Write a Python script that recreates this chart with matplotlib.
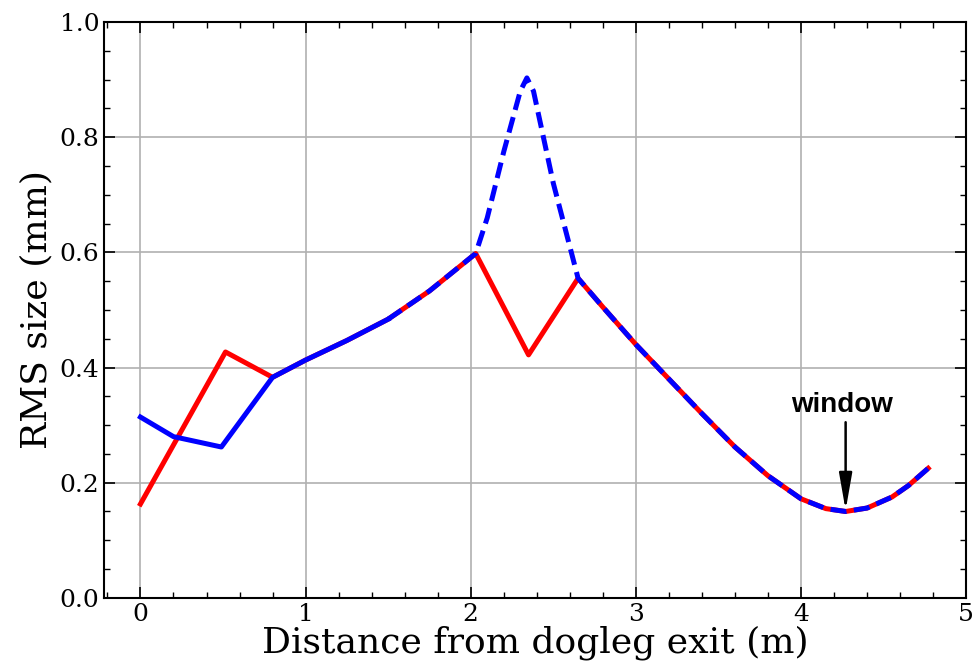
import numpy as np
import matplotlib
matplotlib.use('Agg')
import matplotlib.pyplot as plt
from matplotlib.ticker import MultipleLocator

# shared part of both curves (after the blue and red meet)
mid_x = [0.8, 1.0, 1.25, 1.5, 1.75, 2.03]
mid_y = [0.383, 0.413, 0.447, 0.484, 0.533, 0.598]

tail_x = [2.65, 2.8, 3.0, 3.2, 3.4, 3.6, 3.8, 4.0, 4.15, 4.27, 4.4, 4.55, 4.65, 4.77]
tail_y = [0.555, 0.505, 0.44, 0.38, 0.32, 0.262, 0.212, 0.172, 0.155, 0.15, 0.156, 0.175, 0.195, 0.225]

# red curve
red_x = [0.0, 0.515] + mid_x + [2.35] + tail_x
red_y = [0.163, 0.427] + mid_y + [0.422] + tail_y

# blue curve: solid part, then dashed part
blue_solid_x = [0.0, 0.2, 0.49] + mid_x[:4]
blue_solid_y = [0.314, 0.28, 0.262] + mid_y[:4]
blue_dash_x = mid_x[3:] + [2.1, 2.2, 2.3, 2.34, 2.38, 2.5] + tail_x
blue_dash_y = mid_y[3:] + [0.66, 0.775, 0.88, 0.903, 0.88, 0.72] + tail_y

plt.rcParams['font.family'] = 'DejaVu Serif'

fig = plt.figure(figsize=(9.73, 6.68), dpi=100)
ax = fig.add_axes([0.107, 0.105, 0.886, 0.862])

ax.plot(red_x, red_y, color='red', lw=3.6, solid_joinstyle='round', zorder=3)
ax.plot(blue_solid_x, blue_solid_y, color='blue', lw=3.6, solid_joinstyle='round', zorder=4)
ax.plot(blue_dash_x, blue_dash_y, color='blue', lw=3.6, ls=(0, (3.2, 1.5)), zorder=4)

ax.text(4.25, 0.335, 'window', ha='center', va='center', fontsize=20,
        fontweight='bold', family='Liberation Sans')
ax.annotate('', xy=(4.27, 0.152), xytext=(4.27, 0.305),
            arrowprops=dict(arrowstyle='-|>,head_length=0.8,head_width=0.14',
                            color='black', lw=1.8,
                            mutation_scale=28, shrinkA=0, shrinkB=0))

ax.set_xlim(-0.22, 5.0)
ax.set_ylim(0, 1.0)
ax.xaxis.set_major_locator(MultipleLocator(1))
ax.xaxis.set_minor_locator(MultipleLocator(0.2))
ax.yaxis.set_major_locator(MultipleLocator(0.2))
ax.yaxis.set_minor_locator(MultipleLocator(0.05))
ax.tick_params(which='both', direction='in', top=True, right=True, labelsize=18)
ax.tick_params(which='major', length=8, width=1.2)
ax.tick_params(which='minor', length=4, width=1)
ax.grid(True, which='major', color='#b0b0b0', lw=1.2)
for s in ax.spines.values():
    s.set_linewidth(1.5)

ax.set_xlabel('Distance from dogleg exit (m)', fontsize=26, labelpad=0)
ax.set_ylabel('RMS size (mm)', fontsize=26, labelpad=4)

fig.savefig('out.png', dpi=100)
